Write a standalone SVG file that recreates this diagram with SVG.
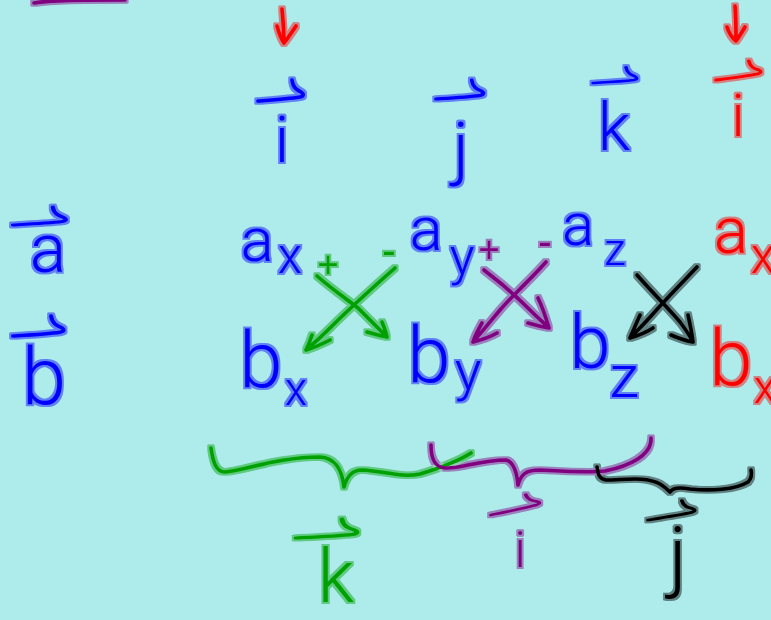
<svg xmlns="http://www.w3.org/2000/svg" xmlns:xlink="http://www.w3.org/1999/xlink" width="771" height="620" viewBox="0 0 771 620">
  <style>
    .ink { fill: none; stroke-width: 3.6; stroke-linecap: round; stroke-linejoin: round; }
    .sb { stroke: #0000ff; } .sr { stroke: #ff0000; } .sg { stroke: #00a000; }
    .sp { stroke: #800080; } .sk { stroke: #000000; }
    .t { font-family: Roboto, "Open Sans", sans-serif; font-weight: 300; text-anchor: middle; }
    .s { font-family: "Liberation Sans", sans-serif; text-anchor: middle; }
    .fb { fill: #0000ff; } .fr { fill: #ff0000; } .fg { fill: #00a000; }
    .fp { fill: #800080; } .fk { fill: #000000; }
  </style>
  <defs>
    <!-- soft marker-pen halo around every stroke -->
    <filter id="glow" x="-10%" y="-10%" width="120%" height="120%">
      <feMorphology in="SourceGraphic" operator="dilate" radius="1.6" result="d"/>
      <feGaussianBlur in="d" stdDeviation="0.6" result="db"/>
      <feComponentTransfer in="db" result="h"><feFuncA type="linear" slope="0.45"/></feComponentTransfer>
      <feMerge><feMergeNode in="h"/><feMergeNode in="SourceGraphic"/></feMerge>
    </filter>
    <!-- hand-drawn vector bar with hooked right end -->
    <path id="bar" d="M0,0 C14,-1 30,-2 42,-4 C46,-5 46,-7 43,-9 C39,-11 35,-13 34,-21"/>
  </defs>

  <rect width="771" height="620" fill="#aeecec"/>

  <g filter="url(#glow)">
    <!-- stroke fragment at top-left -->
    <path class="ink sp" d="M34,3 C50,0 80,0 125,0"/>

    <!-- red marker arrows -->
    <g id="mark1">
      <path class="ink sr" d="M282,9 C283,20 284,32 284,43 M277,26 C279,33 281,39 284,43 M296,26 C292,32 288,38 284,43"/>
    </g>
    <g id="mark2">
      <path class="ink sr" d="M735,6 C736,18 736,30 736,41 M727,27 C729,33 732,38 736,41 M745,27 C742,32 739,37 736,41"/>
    </g>

    <!-- unit vectors row -->
    <g id="unit-i">
      <use href="#bar" class="ink sb" transform="translate(258,101)"/>
      <text class="t fb" font-size="64" x="282" y="162">i</text>
    </g>
    <g id="unit-j">
      <use href="#bar" class="ink sb" transform="translate(436,99) scale(1.05,0.9)"/>
      <text class="t fb" font-size="70" x="461" y="172">j</text>
    </g>
    <g id="unit-k">
      <use href="#bar" class="ink sb" transform="translate(593,83) scale(0.97,0.75)"/>
      <text class="t fb" font-size="66" x="614" y="150">k</text>
    </g>
    <g id="unit-i-repeat">
      <use href="#bar" class="ink sr" transform="translate(716,80) rotate(-4) scale(1,0.8)"/>
      <text class="t fr" font-size="60" x="738" y="136">i</text>
    </g>

    <!-- vectors a and b -->
    <g id="vec-a">
      <use href="#bar" class="ink sb" transform="translate(13,225) scale(1.17,0.85)"/>
      <text class="t fb" font-size="68" x="48" y="272">a</text>
    </g>
    <g id="vec-b">
      <use href="#bar" class="ink sb" transform="translate(13,336) scale(1.12,0.95)"/>
      <text class="t fb" font-size="80" x="44" y="404">b</text>
    </g>

    <!-- components of a -->
    <g id="ax">
      <text class="t fb" font-size="62" x="257" y="261">a</text>
      <text class="t fb" font-size="50" x="290" y="273">x</text>
    </g>
    <g id="ay">
      <text class="t fb" font-size="62" x="426" y="250">a</text>
      <text class="t fb" font-size="52" x="462" y="274">y</text>
    </g>
    <g id="az">
      <text class="t fb" font-size="60" x="578" y="245">a</text>
      <text class="t fb" font-size="44" x="615" y="265">z</text>
    </g>
    <g id="ax-repeat">
      <text class="t fr" font-size="64" x="731" y="253">a</text>
      <text class="t fr" font-size="50" x="763" y="273">x</text>
    </g>

    <!-- components of b -->
    <g id="bx">
      <text class="t fb" font-size="78" x="261" y="387">b</text>
      <text class="t fb" font-size="46" x="296" y="405">x</text>
    </g>
    <g id="by">
      <text class="t fb" font-size="78" x="429" y="382">b</text>
      <text class="t fb" font-size="56" x="468" y="390">y</text>
    </g>
    <g id="bz">
      <text class="t fb" font-size="74" x="590" y="368">b</text>
      <text class="t fb" font-size="60" x="624" y="397">z</text>
    </g>
    <g id="bx-repeat">
      <text class="t fr" font-size="78" x="731" y="385">b</text>
      <text class="t fr" font-size="46" x="765" y="403">x</text>
    </g>

    <!-- signs -->
    <g id="signs">
      <text class="s fg" font-size="36" x="328" y="277">+</text>
      <text class="s fg" font-size="40" x="389" y="264">-</text>
      <text class="s fp" font-size="36" x="489" y="262">+</text>
      <text class="s fp" font-size="40" x="545" y="255">-</text>
    </g>

    <!-- cross-product arrows -->
    <g id="connectors">
      <path class="ink sg" d="M317,276 C333,290 348,300 358,308 C368,318 378,328 387,337 M367,332 C374,334 381,336 387,337 M382,322 C384,327 386,332 387,337"/>
      <path class="ink sg" d="M395,268 C370,290 350,308 330,328 C320,338 312,345 306,350 M312,335 C310,341 308,346 306,350 M330,340 C322,344 314,348 306,350"/>
      <path class="ink sp" d="M484,270 C500,282 515,295 530,310 C538,318 544,323 549,328 M538,298 C543,308 546,318 549,328 M528,323 C535,325 542,327 549,328"/>
      <path class="ink sp" d="M546,262 C530,280 513,295 500,310 C490,322 481,333 473,342 M482,323 C478,330 475,336 473,342 M497,333 C490,337 481,340 473,342"/>
      <path class="ink sk" d="M637,275 C652,292 668,308 680,322 C686,330 690,336 693,342 M688,315 C690,324 692,334 693,342 M671,335 C678,338 686,341 693,342"/>
      <path class="ink sk" d="M697,267 C680,285 665,300 652,315 C643,325 636,332 630,338 M640,315 C636,324 633,331 630,338 M653,328 C645,333 637,336 630,338"/>
    </g>

    <!-- braces grouping pairs -->
    <g id="braces">
      <path class="ink sg" d="M211,448 C213,462 216,472 225,472 C245,470 280,457 320,457 C336,458 342,470 344,487 C347,476 352,470 362,470 C385,471 400,478 420,474 C440,468 460,460 471,453"/>
      <path class="ink sp" d="M431,445 C431,458 434,467 445,468 C460,469 480,460 506,460 C514,462 517,474 518,485 C521,474 526,470 540,470 C560,471 585,473 605,471 C630,466 652,455 651,438"/>
      <path class="ink sk" d="M597,467 C598,474 599,479 606,480 C625,480 645,476 660,484 C665,487 668,490 670,492 C673,488 678,487 690,489 C710,491 735,490 748,482 C752,478 752,474 751,470"/>
    </g>

    <!-- labels under braces -->
    <g id="label-k">
      <use href="#bar" class="ink sg" transform="translate(296,538) scale(1.35,0.9)"/>
      <text class="t fg" font-size="74" x="336" y="602">k</text>
    </g>
    <g id="label-i">
      <use href="#bar" class="ink sp" transform="translate(491,515) rotate(-9) scale(1.1,0.7)"/>
      <text class="t fp" font-size="50" x="520" y="567">i</text>
    </g>
    <g id="label-j">
      <use href="#bar" class="ink sk" transform="translate(648,520) rotate(-6) scale(1.05,0.75)"/>
      <text class="t fk" font-size="78" x="678" y="582">j</text>
    </g>
  </g>
</svg>
